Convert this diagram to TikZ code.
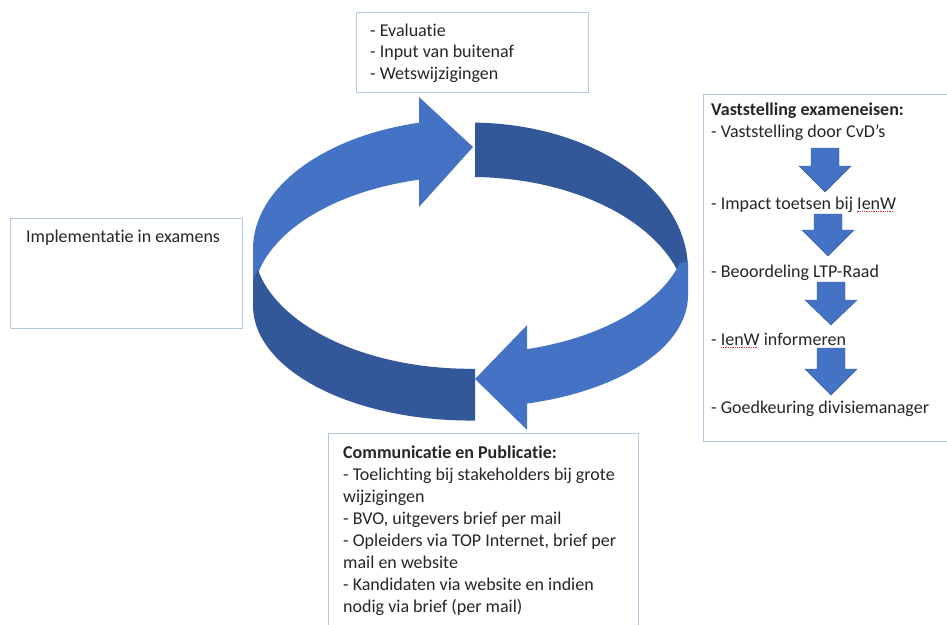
\documentclass[tikz,border=0pt]{standalone}
\usepackage{fontspec}
\setmainfont{Carlito}[Ligatures=NoCommon]
\definecolor{ringlight}{RGB}{68,114,196}
\definecolor{ringdark}{RGB}{50,88,153}
\definecolor{boxedge}{RGB}{180,199,231}
\definecolor{txtcol}{RGB}{38,38,38}
\definecolor{spellred}{RGB}{220,40,40}
\newsavebox\sqbox
\newcommand\squig[1]{\sbox\sqbox{#1}\rlap{\textcolor{spellred}{\raisebox{-3pt}{\leaders\hbox{\rule{1.3pt}{1pt}\hspace{1pt}}\hskip\wd\sqbox}}}\usebox\sqbox}
\begin{document}
\begin{tikzpicture}[x=1pt,y=1pt,
  frame/.style={draw=boxedge,line width=1.2pt,fill=white,inner sep=0pt,anchor=north west},
  txt/.style={font=\fontsize{18}{22}\selectfont, text=txtcol, inner sep=0pt, align=left, anchor=base west},
  lightpart/.style={fill=ringlight},
  darkpart/.style={fill=ringdark},
  blockarrow/.style={fill=ringlight, draw=ringlight!80!black, line width=0.4pt}]
\useasboundingbox (0,0) rectangle (947,-624);

% ---- ring: back band (top) ----
\path[darkpart] (475.05,-122.6) arc[start angle=88.8,end angle=0,x radius=217.5,y radius=147.4]
  -- (683.2,-283.9) arc[start angle=12,end angle=88.8,x radius=217.5,y radius=135] -- cycle;
\path[lightpart] (253,-249) arc[start angle=180,end angle=103.7,x radius=217.5,y radius=130]
  -- (419,-97) -- (473,-147) -- (419,-207) -- (419,-179.7)
  arc[start angle=103.7,end angle=167.7,x radius=217.5,y radius=123.4]
  -- (253,-283) -- cycle;
% ---- ring: front band (bottom) ----
\path[darkpart] (257.75,-269.55) arc[start angle=192,end angle=271.2,x radius=217.5,y radius=125.3]
  -- (475.05,-420.5) arc[start angle=271.2,end angle=180,x radius=217.5,y radius=114.8]
  -- (253,-281) -- cycle;
\path[lightpart] (680,-262.9) -- (688,-262) -- (688,-295.4)
  arc[start angle=360,end angle=285.1,x radius=217.5,y radius=112]
  -- (527.2,-430) -- (475,-379) -- (527.2,-325) -- (527.2,-349.1)
  arc[start angle=285.1,end angle=344.4,x radius=217.5,y radius=123.8] -- cycle;

% ---- boxes ----
\node[frame,minimum width=232,minimum height=80] (topbox) at (356,-12) {};
\node[frame,minimum width=232,minimum height=110] (leftbox) at (10,-218) {};
\node[frame,minimum width=250,minimum height=347] (rightbox) at (703,-94) {};
\node[frame,minimum width=310,minimum height=200] (botbox) at (328,-433) {};

% ---- texts (base anchor = baseline of the last line) ----
\node[txt,font=\fontsize{18}{21.5}\selectfont] (toptext) at (370,-79)
  {- Evaluatie\\- Input van buitenaf\\- Wetswijzigingen};
\node[txt] (lefttext) at (26,-242) {Implementatie in examens};
\node[txt] (r0) at (711,-137) {\textbf{Vaststelling exameneisen:}\\- Vaststelling door CvD’s};
\node[txt] (r1) at (711,-209) {- Impact toetsen bij \squig{IenW}};
\node[txt] (r2) at (711,-277) {- Beoordeling LTP-Raad};
\node[txt] (r3) at (711,-345) {- \squig{IenW} informeren};
\node[txt] (r4) at (711,-413) {- Goedkeuring divisiemanager};
\node[txt] (bottext) at (343,-612) {\textbf{Communicatie en Publicatie:}\\
  - Toelichting bij stakeholders bij grote\\
  wijzigingen\\
  - BVO, uitgevers brief per mail\\
  - Opleiders via TOP Internet, brief per\\
  mail en website\\
  - Kandidaten via website en indien\\
  nodig via brief (per mail)};

% ---- block arrows in right box ----
\foreach \cx/\ys/\yb/\yt in {825/148/166/192, 828/214/230/256, 831/282/300/325, 831/348/369/395}{
  \path[blockarrow] (\cx-14,-\ys) -- (\cx+14,-\ys) -- (\cx+14,-\yb) -- (\cx+26,-\yb)
    -- (\cx,-\yt) -- (\cx-26,-\yb) -- (\cx-14,-\yb) -- cycle;
}
\end{tikzpicture}
\end{document}
